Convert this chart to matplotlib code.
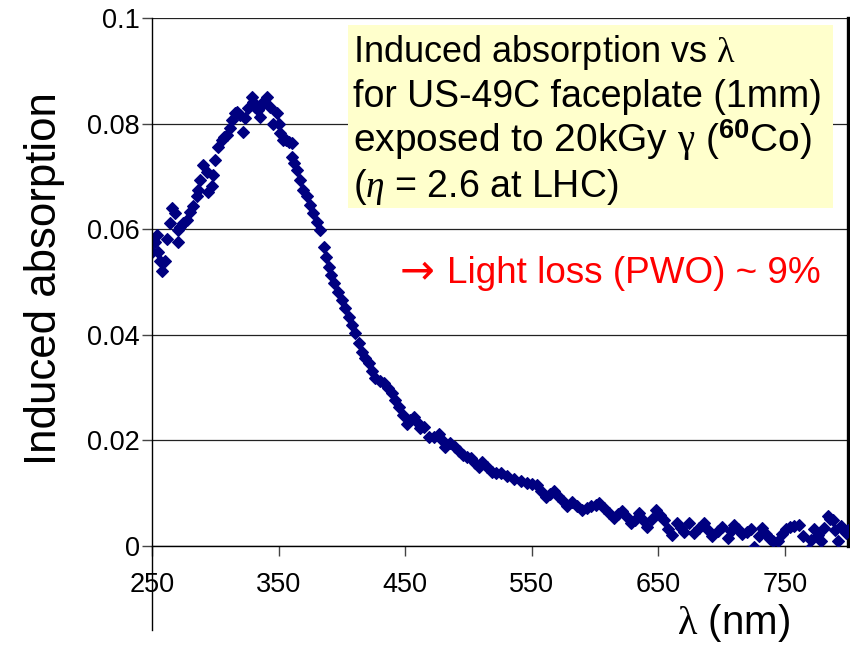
import matplotlib
matplotlib.use("Agg")
import matplotlib.pyplot as plt
from matplotlib.patches import Rectangle

plt.rcParams["font.family"] = ["Liberation Sans", "DejaVu Sans"]
plt.rcParams["mathtext.fontset"] = "custom"
plt.rcParams["mathtext.rm"] = "Liberation Sans"
plt.rcParams["mathtext.it"] = "Liberation Serif:italic"
plt.rcParams["mathtext.bf"] = "Liberation Sans:bold"
plt.rcParams["mathtext.sf"] = "Liberation Serif"

# wavelength (nm) and induced absorption
wavelength = [
    250.0, 252.0, 253.7, 254.5, 256.0, 257.7, 260.3, 261.6, 264.2, 265.6,
    268.0, 270.8, 270.8, 272.5, 274.8, 277.4, 280.0, 282.7, 285.4, 286.6,
    288.0, 290.6, 293.3, 294.6, 297.2, 298.5, 299.9, 302.5, 305.2, 307.0,
    309.1, 311.7, 313.0, 315.7, 317.5, 319.6, 322.3, 323.6, 326.2, 328.9,
    330.0, 331.5, 333.5, 335.5, 336.8, 338.8, 340.8, 343.4, 346.0, 348.7,
    350.0, 351.3, 353.9, 356.0, 357.9, 360.6, 360.6, 362.5, 364.5, 367.1,
    369.7, 372.4, 375.0, 377.6, 380.3, 382.9, 385.6, 387.5, 389.5, 391.5,
    393.5, 396.8, 400.1, 402.7, 405.4, 408.0, 410.7, 413.3, 416.0, 418.6,
    421.2, 423.8, 426.5, 429.8, 433.1, 436.4, 439.7, 442.4, 445.0, 448.0,
    451.6, 454.2, 456.8, 459.4, 462.1, 464.7, 468.7, 472.6, 476.6, 479.2,
    481.9, 485.8, 489.1, 492.4, 496.0, 499.0, 501.7, 505.0, 508.2, 510.9,
    514.8, 518.7, 522.0, 525.4, 530.6, 535.9, 541.2, 546.5, 550.4, 554.4,
    557.7, 561.0, 564.3, 567.6, 570.9, 574.9, 578.2, 582.1, 586.1, 590.0,
    593.9, 597.3, 600.6, 603.2, 607.2, 611.1, 615.1, 618.4, 621.7, 625.0,
    628.3, 631.6, 634.9, 638.2, 641.5, 644.8, 648.1, 651.4, 654.7, 658.0,
    661.3, 665.2, 668.0, 670.5, 674.4, 678.4, 682.0, 686.3, 689.6, 692.9,
    696.9, 700.8, 704.8, 707.4, 710.0, 713.3, 716.6, 719.9, 723.2, 726.0,
    729.5, 732.4, 735.0, 738.0, 741.0, 744.3, 747.6, 750.9, 754.2, 757.5,
    761.5, 764.2, 768.1, 770.8, 773.4, 776.0, 778.7, 781.3, 783.9, 786.0,
    787.9, 789.8, 791.8, 794.5, 796.5, 798.5, 800.0,
]
absorption = [
    0.0557, 0.0575, 0.0589, 0.0557, 0.0540, 0.0520, 0.0539, 0.0581, 0.0611, 0.0640,
    0.0630, 0.0575, 0.0598, 0.0605, 0.0611, 0.0617, 0.0633, 0.0643, 0.0662, 0.0674,
    0.0693, 0.0722, 0.0709, 0.0671, 0.0681, 0.0703, 0.0731, 0.0756, 0.0769, 0.0774,
    0.0778, 0.0791, 0.0807, 0.0820, 0.0822, 0.0816, 0.0785, 0.0810, 0.0829, 0.0851,
    0.0840, 0.0832, 0.0825, 0.0813, 0.0835, 0.0842, 0.0851, 0.0832, 0.0800, 0.0820,
    0.0800, 0.0782, 0.0769, 0.0768, 0.0766, 0.0737, 0.0763, 0.0725, 0.0712, 0.0693,
    0.0675, 0.0662, 0.0646, 0.0630, 0.0614, 0.0598, 0.0567, 0.0548, 0.0529, 0.0513,
    0.0498, 0.0482, 0.0466, 0.0450, 0.0434, 0.0418, 0.0403, 0.0385, 0.0368, 0.0357,
    0.0346, 0.0332, 0.0318, 0.0313, 0.0308, 0.0299, 0.0289, 0.0276, 0.0264, 0.0248,
    0.0232, 0.0238, 0.0245, 0.0234, 0.0223, 0.0226, 0.0207, 0.0207, 0.0213, 0.0200,
    0.0188, 0.0196, 0.0187, 0.0179, 0.0173, 0.0169, 0.0166, 0.0158, 0.0150, 0.0160,
    0.0150, 0.0141, 0.0139, 0.0138, 0.0133, 0.0127, 0.0123, 0.0119, 0.0117, 0.0116,
    0.0105, 0.0093, 0.0098, 0.0104, 0.0095, 0.0085, 0.0075, 0.0084, 0.0076, 0.0068,
    0.0072, 0.0076, 0.0078, 0.0081, 0.0072, 0.0062, 0.0053, 0.0060, 0.0066, 0.0055,
    0.0043, 0.0050, 0.0063, 0.0050, 0.0036, 0.0052, 0.0068, 0.0058, 0.0049, 0.0033,
    0.0021, 0.0043, 0.0035, 0.0027, 0.0043, 0.0024, 0.0034, 0.0043, 0.0030, 0.0019,
    0.0028, 0.0036, 0.0015, 0.0028, 0.0040, 0.0032, 0.0022, 0.0026, 0.0032, -0.0001,
    0.0018, 0.0034, 0.0022, 0.0013, 0.0010, 0.0009, 0.0022, 0.0032, 0.0036, 0.0037,
    0.0040, 0.0018, -0.0008, 0.0012, 0.0032, 0.0020, 0.0010, 0.0035, 0.0056, 0.0052,
    0.0049, 0.0030, 0.0009, 0.0038, 0.0030, 0.0025, 0.0030,
]

x_ticks = [250, 350, 450, 550, 650, 750]
x_tick_labels = ["250", "350", "450", "550", "650", "750"]
y_ticks = [0, 0.02, 0.04, 0.06, 0.08, 0.1]
y_tick_labels = ["0", "0.02", "0.04", "0.06", "0.08", "0.1"]

box_lines = [
    r"Induced absorption vs $\mathsf{\lambda}$",
    "for US-49C faceplate (1mm)",
    r"exposed to 20kGy $\mathsf{\gamma}$ ($^{\mathbf{60}}$Co)",
    r"($\eta$ = 2.6 at LHC)",
]
box_sizes = [26, 27, 28, 27]

W, H = 850, 646
fig = plt.figure(figsize=(W / 100, H / 100), dpi=100)
ax = fig.add_axes([152 / W, 1 - 546 / H, 696 / W, 528 / H])

ax.plot(wavelength, absorption, linestyle="none", marker="D", markersize=6.2,
        color="#000080", markeredgewidth=0.8, zorder=4)

ax.set_xlim(250, 800)
ax.set_ylim(0, 0.1)
ax.set_xticks(x_ticks)
ax.set_xticklabels(x_tick_labels)
ax.set_yticks(y_ticks)
ax.set_yticklabels(y_tick_labels)
ax.tick_params(axis="both", direction="out", length=7, width=1, color="#444444",
               labelsize=19.5, labelcolor="black")
ax.tick_params(axis="x", pad=12)
ax.tick_params(axis="y", pad=2)
ax.yaxis.grid(True, color="#222222", linewidth=0.9)
ax.set_axisbelow(True)

ax.spines["top"].set_visible(False)
ax.spines["left"].set_visible(False)
ax.spines["bottom"].set_color("black")
ax.spines["bottom"].set_linewidth(1)
ax.spines["right"].set_color("black")
ax.spines["right"].set_linewidth(2.4)
ax.axvline(250, ymin=-0.159, ymax=1, color="black", linewidth=1, clip_on=False, zorder=5)

ax.add_patch(Rectangle((348 / W, 1 - 208 / H), 485 / W, 183 / H,
                       transform=fig.transFigure, facecolor="#FFFFCC",
                       edgecolor="none", zorder=3, clip_on=False))
for i, line in enumerate(box_lines):
    fig.text(353 / W, 1 - (62 + 45 * i) / H, line, fontsize=box_sizes[i],
             ha="left", va="baseline", zorder=6)

fig.text(400 / W, 1 - 283 / H, "\u2192", fontsize=30, family="DejaVu Sans",
         color="#FF0000", ha="left", va="baseline")
fig.text(447 / W, 1 - 283 / H, "Light loss (PWO) ~ 9%", fontsize=26.6,
         color="#FF0000", ha="left", va="baseline")

fig.text(45 / W, 1 - 279 / H, "Induced absorption", fontsize=31.5,
         rotation=90, ha="center", va="center")
fig.text(790 / W, 1 - 634 / H, r"$\mathsf{\lambda}$ (nm)", fontsize=29,
         ha="right", va="baseline")

fig.savefig("out.png", dpi=100)
